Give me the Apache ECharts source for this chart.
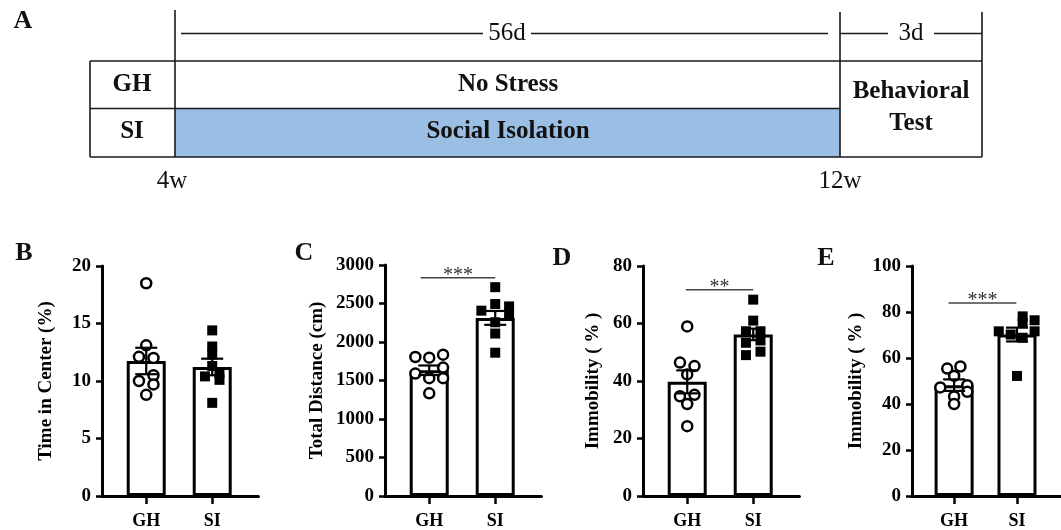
<!DOCTYPE html>
<html><head><meta charset="utf-8">
<script src="https://cdn.jsdelivr.net/npm/echarts@6/dist/echarts.min.js"></script>
<style>html,body{margin:0;padding:0;background:#fff}#c{width:1061px;height:530px}</style>
</head><body><div id="c"></div>
<script>
// ---------- data ----------
const groups = ['GH', 'SI'];
const panelLetters = ['A', 'B', 'C', 'D', 'E'];

// Panel A (timeline schematic texts)
const timelineRows = ['GH', 'SI'];
const timelineConditions = ['No Stress', 'Social Isolation'];
const timelineTest = ['Behavioral', 'Test'];
const timelineDurations = ['56d', '3d'];
const timelineAges = ['4w', '12w'];

// Panel B
const bTitle = 'Time in Center (%)';
const bMax = 20, bStep = 5;
const bMean = [11.74, 11.22];
const bSem = [1.15, 0.72];
const bGH = [18.5, 13.1, 12.1, 12.0, 10.5, 10.0, 9.7, 8.8];
const bGHspread = [0, 0, -0.11, 0.11, 0.11, -0.11, 0.11, 0];
const bSI = [14.4, 13.0, 12.3, 11.3, 10.4, 10.7, 10.1, 8.1];
const bSIspread = [0, 0, 0, 0, -0.11, 0.11, 0.11, 0];

// Panel C
const cTitle = 'Total Distance (cm)';
const cMax = 3000, cStep = 500;
const cMean = [1633, 2313];
const cSem = [62, 90];
const cGH = [1805, 1797, 1835, 1590, 1668, 1530, 1530, 1333];
const cGHspread = [-0.21, 0, 0.21, -0.21, 0.21, 0, 0.21, 0];
const cSI = [2712, 2493, 2407, 2462, 2342, 2256, 2110, 1861];
const cSIspread = [0, 0, -0.21, 0.21, 0.21, 0, 0, 0];
const cSig = { text: '***', value: 2836, from: -0.13, to: 1.0 };

// Panel D
const dTitle = 'Immobility ( % )';
const dMax = 80, dStep = 20;
const dMean = [39.7, 56.2];
const dSem = [4.0, 2.0];
const dGH = [59.0, 46.4, 45.2, 42.3, 34.7, 35.2, 32.0, 24.3];
const dGHspread = [0, -0.11, 0.11, 0, -0.11, 0.11, 0, 0];
const dSI = [68.3, 61.0, 57.3, 57.3, 53.3, 54.1, 49.0, 50.2];
const dSIspread = [0, 0, -0.11, 0.11, -0.11, 0.11, -0.11, 0.11];
const dSig = { text: '**', value: 71.7, from: -0.02, to: 1.0 };

// Panel E
const eTitle = 'Immobility ( % )';
const eMax = 100, eStep = 20;
const eMean = [48.2, 70.2];
const eSem = [2.5, 3.0];
const eGH = [55.4, 56.3, 52.2, 47.2, 48.2, 45.3, 43.3, 40.0];
const eGHspread = [-0.11, 0.1, 0, -0.22, 0.21, 0.21, 0, 0];
const eSI = [78.1, 75.3, 76.4, 71.6, 71.6, 70.2, 68.8, 52.2];
const eSIspread = [0.09, 0.09, 0.28, -0.29, 0.28, -0.1, 0.09, 0];
const eSig = { text: '***', value: 83.9, from: -0.09, to: 0.99 };

// ---------- layout / style ----------
const SERIF = '"Liberation Serif", "Times New Roman", serif';
const panels = [
  { title: bTitle, max: bMax, step: bStep, mean: bMean, sem: bSem, gh: bGH, ghS: bGHspread, si: bSI, siS: bSIspread, sig: null, left: 102, top: 266, nameGap: 46 },
  { title: cTitle, max: cMax, step: cStep, mean: cMean, sem: cSem, gh: cGH, ghS: cGHspread, si: cSI, siS: cSIspread, sig: cSig, left: 385, top: 265, nameGap: 58 },
  { title: dTitle, max: dMax, step: dStep, mean: dMean, sem: dSem, gh: dGH, ghS: dGHspread, si: dSI, siS: dSIspread, sig: dSig, left: 643, top: 266, nameGap: 40 },
  { title: eTitle, max: eMax, step: eStep, mean: eMean, sem: eSem, gh: eGH, ghS: eGHspread, si: eSI, siS: eSIspread, sig: eSig, left: 912, top: 266, nameGap: 46 }
];
const XMIN = -0.67, XMAX = 1.7, PXU = 66;
const BOTTOM_Y = 497.7;

const grid = [], xAxis = [], yAxis = [], series = [];
panels.forEach((p, i) => {
  grid.push({ left: p.left, top: p.top, width: (XMAX - XMIN) * PXU, height: BOTTOM_Y - p.top, containLabel: false });
  xAxis.push({
    gridIndex: i, type: 'value', min: XMIN, max: XMAX,
    axisLine: { show: true, onZero: false, lineStyle: { color: '#000', width: 3 } },
    axisTick: { show: true, customValues: [0, 1], length: 8, inside: false, lineStyle: { color: '#000', width: 2.5 } },
    axisLabel: { show: true, customValues: [0, 1], formatter: v => groups[Math.round(v)], margin: 16,
      fontFamily: SERIF, fontWeight: 'bold', fontSize: 18, color: '#000' },
    splitLine: { show: false }
  });
  yAxis.push({
    gridIndex: i, type: 'value', min: 0, max: p.max, interval: p.step,
    axisLine: { show: true, onZero: false, lineStyle: { color: '#000', width: 3 } },
    axisTick: { show: true, length: 6, lineStyle: { color: '#000', width: 2.5 } },
    axisLabel: { margin: 11, formatter: v => String(v), fontFamily: SERIF, fontWeight: 'bold', fontSize: 19, color: '#000' },
    splitLine: { show: false },
    name: p.title, nameLocation: 'middle', nameGap: p.nameGap, nameRotate: 90,
    nameTextStyle: { fontFamily: SERIF, fontWeight: 'bold', fontSize: 19, color: '#000' }
  });
  series.push({
    type: 'bar', xAxisIndex: i, yAxisIndex: i, barWidth: 39, z: 2,
    data: p.mean.map((m, k) => [k, m]),
    itemStyle: { color: '#fff', borderColor: '#000', borderWidth: 3 },
    silent: true
  });
  series.push({
    type: 'scatter', xAxisIndex: i, yAxisIndex: i, z: 3, symbol: 'circle', symbolSize: 10,
    data: p.gh.map((v, k) => [0 + p.ghS[k], v]),
    itemStyle: { color: '#fff', borderColor: '#000', borderWidth: 2.5, opacity: 1 },
    silent: true
  });
  series.push({
    type: 'scatter', xAxisIndex: i, yAxisIndex: i, z: 3, symbol: 'rect', symbolSize: 10,
    data: p.si.map((v, k) => [1 + p.siS[k], v]),
    itemStyle: { color: '#000', opacity: 1 },
    silent: true
  });
  series.push({
    type: 'custom', xAxisIndex: i, yAxisIndex: i, z: 4, silent: true,
    data: p.mean.map((m, k) => [k, m - p.sem[k], m + p.sem[k]]),
    renderItem: (params, api) => {
      const lo = api.coord([api.value(0), api.value(1)]);
      const hi = api.coord([api.value(0), api.value(2)]);
      const h = 11, st = { stroke: '#000', lineWidth: 2.2 };
      return { type: 'group', children: [
        { type: 'line', shape: { x1: lo[0], y1: lo[1], x2: hi[0], y2: hi[1] }, style: st },
        { type: 'line', shape: { x1: hi[0] - h, y1: hi[1], x2: hi[0] + h, y2: hi[1] }, style: st },
        { type: 'line', shape: { x1: lo[0] - h, y1: lo[1], x2: lo[0] + h, y2: lo[1] }, style: st }
      ] };
    }
  });
  if (p.sig) {
    series.push({
      type: 'custom', xAxisIndex: i, yAxisIndex: i, z: 5, silent: true,
      data: [[p.sig.from, p.sig.to, p.sig.value]],
      renderItem: (params, api) => {
        const a = api.coord([api.value(0), api.value(2)]);
        const b = api.coord([api.value(1), api.value(2)]);
        return { type: 'group', children: [
          { type: 'line', shape: { x1: a[0], y1: a[1], x2: b[0], y2: b[1] }, style: { stroke: '#444', lineWidth: 1.5 } },
          { type: 'text', x: (a[0] + b[0]) / 2, y: a[1] - 2, style: { text: p.sig.text, font: '20px ' + SERIF, fill: '#333',
              align: 'center', verticalAlign: 'middle', textAlign: 'center', textVerticalAlign: 'middle' } }
        ] };
      }
    });
  }
});

// ---------- panel A schematic ----------
const LC = '#1a1a1a';
function L(x1, y1, x2, y2) { return { type: 'line', silent: true, shape: { x1, y1, x2, y2 }, style: { stroke: LC, lineWidth: 1.6 } }; }
function T(text, x, y, size, bold) {
  return { type: 'text', silent: true, x, y, style: { text, font: (bold ? 'bold ' : '') + size + 'px ' + SERIF, fill: '#111',
    align: 'center', verticalAlign: 'middle', textAlign: 'center', textVerticalAlign: 'middle' } };
}
const graphic = [
  { type: 'rect', silent: true, shape: { x: 175, y: 108.5, width: 665, height: 48.5 }, style: { fill: '#9BBEE5' } },
  L(90, 61, 982, 61), L(90, 108.5, 840, 108.5), L(90, 157, 982, 157), L(90, 61, 90, 157),
  L(175, 10, 175, 157), L(840, 12, 840, 157), L(982, 12, 982, 157),
  L(181, 33.5, 483, 33.5), L(531, 33.5, 828, 33.5),
  L(840, 33.5, 888, 33.5), L(934, 33.5, 982, 33.5),
  T(timelineDurations[0], 507, 33, 25, false), T(timelineDurations[1], 911, 33, 25, false),
  T(timelineRows[0], 132, 85, 25, true), T(timelineRows[1], 132, 132, 25, true),
  T(timelineConditions[0], 508, 85, 25, true), T(timelineConditions[1], 508, 132, 25, true),
  T(timelineTest[0], 911, 92, 25, true), T(timelineTest[1], 911, 124, 25, true),
  T(timelineAges[0], 172, 181, 25, false), T(timelineAges[1], 840, 181, 25, false),
  T(panelLetters[0], 23, 21, 26, true), T(panelLetters[1], 24, 253, 26, true),
  T(panelLetters[2], 304, 253, 26, true), T(panelLetters[3], 562, 258, 26, true),
  T(panelLetters[4], 826, 258, 26, true)
];

const chart = echarts.init(document.getElementById('c'), null, { renderer: 'canvas' });
chart.setOption({ animation: false, backgroundColor: '#fff', grid, xAxis, yAxis, series, graphic });
</script></body></html>
